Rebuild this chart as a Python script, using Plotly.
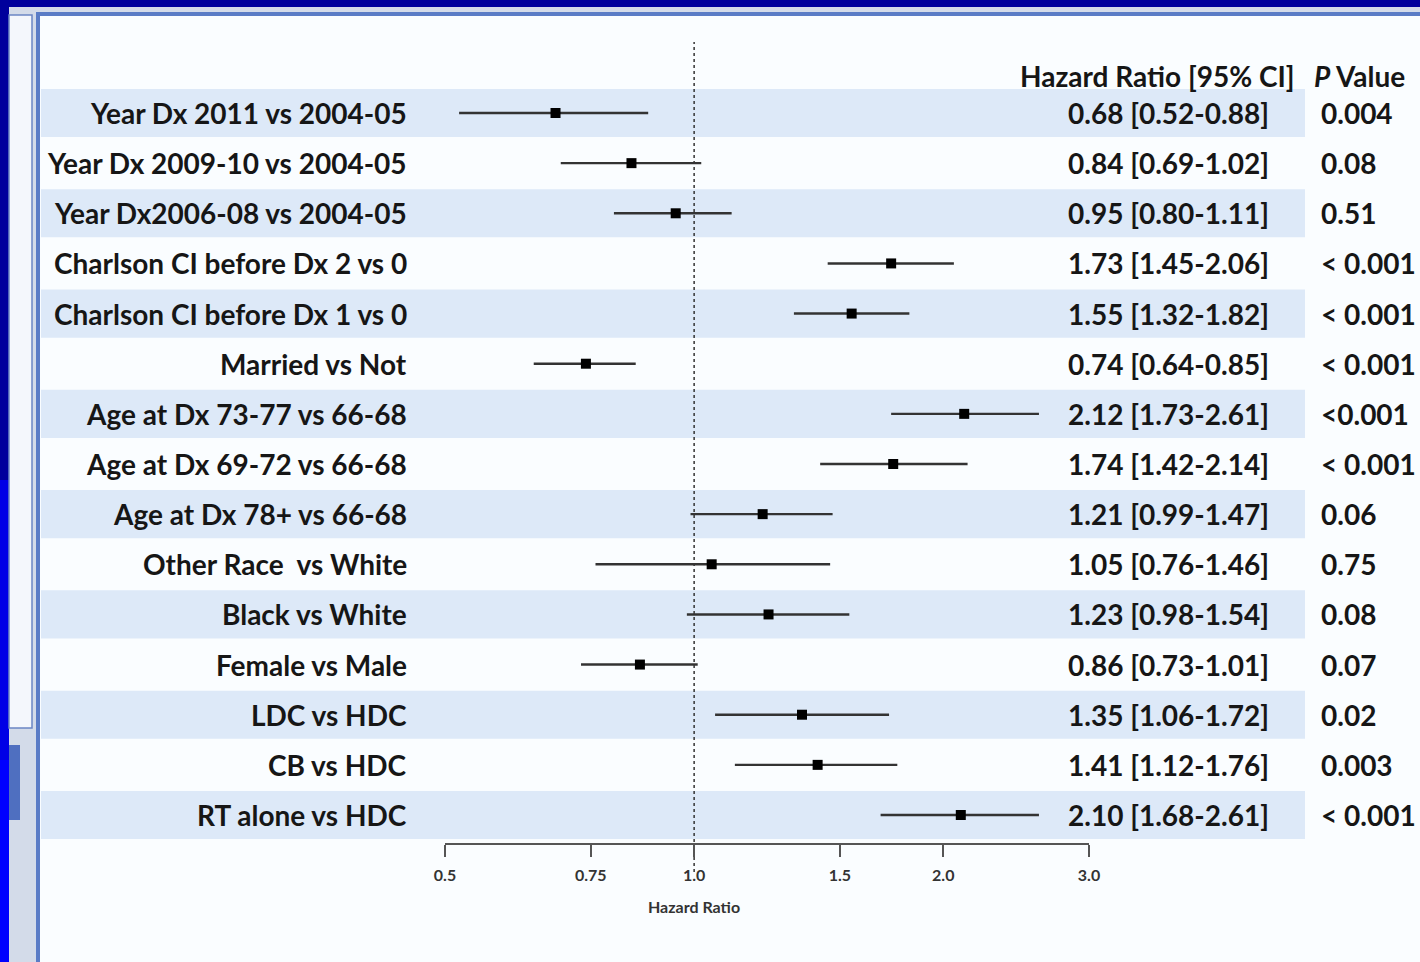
import math
import plotly.graph_objects as go

# ---------------- data ----------------
labels = [
    "Year Dx 2011 vs 2004-05",
    "Year Dx 2009-10 vs 2004-05",
    "Year Dx2006-08 vs 2004-05",
    "Charlson CI before Dx 2 vs 0",
    "Charlson CI before Dx 1 vs 0",
    "Married vs Not",
    "Age at Dx 73-77 vs 66-68",
    "Age at Dx 69-72 vs 66-68",
    "Age at Dx 78+ vs 66-68",
    "Other Race  vs White",
    "Black vs White",
    "Female vs Male",
    "LDC vs HDC",
    "CB vs HDC",
    "RT alone vs HDC",
]
hr = [0.68, 0.84, 0.95, 1.73, 1.55, 0.74, 2.12, 1.74, 1.21, 1.05, 1.23, 0.86, 1.35, 1.41, 2.10]
ci_low = [0.52, 0.69, 0.80, 1.45, 1.32, 0.64, 1.73, 1.42, 0.99, 0.76, 0.98, 0.73, 1.06, 1.12, 1.68]
ci_high = [0.88, 1.02, 1.11, 2.06, 1.82, 0.85, 2.61, 2.14, 1.47, 1.46, 1.54, 1.01, 1.72, 1.76, 2.61]
p_values = ["0.004", "0.08", "0.51", "< 0.001", "< 0.001", "< 0.001", "<0.001", "< 0.001",
            "0.06", "0.75", "0.08", "0.07", "0.02", "0.003", "< 0.001"]
tick_vals = [0.5, 0.75, 1.0, 1.5, 2.0, 3.0]
tick_text = ["0.5", "0.75", "1.0", "1.5", "2.0", "3.0"]
reference_hr = 1.0
x_title = "Hazard Ratio"
col_header_hr = "Hazard Ratio [95% CI]"
col_header_p = "<i>P</i> Value"

# ---------------- layout geometry (pixels) ----------------
W, H = 1420, 962
PL, PR = 445, 1089          # plot area x
PT, PB = 88, 843            # plot area y
pw, ph = PR - PL, PB - PT


def px(x):
    return (x - PL) / pw


def py(y):
    return (PB - y) / ph


rows = list(range(len(labels)))
FONT = "Lato"
TXT = "#161616"

fig = go.Figure()
fig.add_trace(go.Scatter(
    x=hr, y=rows, mode="markers",
    marker=dict(symbol="square", size=10, color="#000000"),
    error_x=dict(type="data", symmetric=False,
                 array=[h - m for h, m in zip(ci_high, hr)],
                 arrayminus=[m - l for m, l in zip(hr, ci_low)],
                 color="#333333", thickness=2.4, width=0),
    showlegend=False, hoverinfo="skip",
))

shapes = []
# background frame (screenshot window look)
shapes.append(dict(type="rect", xref="paper", yref="paper", x0=px(9), x1=px(W + 5), y0=py(H + 5), y1=py(7),
                   fillcolor="#d3dbe9", line=dict(width=0), layer="below"))
shapes.append(dict(type="rect", xref="paper", yref="paper", x0=px(-2), x1=px(9), y0=py(H + 5), y1=py(480),
                   fillcolor="#0000e6", line=dict(width=0), layer="below"))
shapes.append(dict(type="rect", xref="paper", yref="paper", x0=px(-2), x1=px(9), y0=py(H + 5), y1=py(760),
                   fillcolor="#0000ff", line=dict(width=0), layer="below"))
shapes.append(dict(type="rect", xref="paper", yref="paper", x0=px(9), x1=px(32), y0=py(15), y1=py(728),
                   fillcolor="#f4f7fc", line=dict(width=1.5, color="#6b86c4"), layer="below"))
shapes.append(dict(type="rect", xref="paper", yref="paper", x0=px(9), x1=px(20), y0=py(745), y1=py(820),
                   fillcolor="#4f6fc0", line=dict(width=0), layer="below"))
shapes.append(dict(type="rect", xref="paper", yref="paper", x0=px(38), x1=px(W + 5), y0=py(H + 5), y1=py(14),
                   fillcolor="#fafdff", line=dict(width=4, color="#5a7cc6"), layer="below"))
# row bands
for i in rows:
    if i % 2 == 0:
        shapes.append(dict(type="rect", xref="paper", yref="y", x0=px(41), x1=px(1305),
                           y0=i - 0.48, y1=i + 0.48, fillcolor="#dde9f8",
                           line=dict(width=0), layer="below"))
# reference line at HR = 1
shapes.append(dict(type="line", xref="x", yref="paper", x0=reference_hr, x1=reference_hr,
                   y0=py(872), y1=py(42),
                   line=dict(color="#333333", width=1.5, dash="dot"), layer="below"))

annotations = []
for i in rows:
    annotations.append(dict(xref="paper", yref="y", x=px(409), y=i, text=labels[i],
                            xanchor="right", yanchor="middle", showarrow=False,
                            font=dict(family=FONT, size=28, color=TXT, weight=700)))
    annotations.append(dict(xref="paper", yref="y", x=px(1271), y=i,
                            text=f"{hr[i]:.2f} [{ci_low[i]:.2f}-{ci_high[i]:.2f}]",
                            xanchor="right", yanchor="middle", showarrow=False,
                            font=dict(family=FONT, size=28, color=TXT, weight=700)))
    annotations.append(dict(xref="paper", yref="y", x=px(1319), y=i, text=p_values[i],
                            xanchor="left", yanchor="middle", showarrow=False,
                            font=dict(family=FONT, size=28, color=TXT, weight=700)))
annotations.append(dict(xref="paper", yref="paper", x=px(1297), y=py(76), text=col_header_hr,
                        xanchor="right", yanchor="middle", showarrow=False,
                        font=dict(family=FONT, size=28, color=TXT, weight=700)))
annotations.append(dict(xref="paper", yref="paper", x=px(1312), y=py(76), text=col_header_p,
                        xanchor="left", yanchor="middle", showarrow=False,
                        font=dict(family=FONT, size=28, color=TXT, weight=700)))
# x-axis title, centred under the reference line
annotations.append(dict(xref="x", yref="paper", x=math.log10(reference_hr), y=py(906), text=x_title,
                        xanchor="center", yanchor="middle", showarrow=False,
                        font=dict(family=FONT, size=16, color="#333333", weight=700)))

fig.update_layout(
    width=W, height=H,
    margin=dict(l=PL, r=W - PR, t=PT, b=H - PB, autoexpand=False),
    paper_bgcolor="#00009c",
    plot_bgcolor="rgba(0,0,0,0)",
    shapes=shapes,
    annotations=annotations,
    xaxis=dict(type="log", range=[math.log10(0.5), math.log10(3.0)],
               tickvals=tick_vals, ticktext=tick_text,
               ticks="outside", ticklen=12, tickwidth=1.5, tickcolor="#555555",
               showline=True, linecolor="#555555", linewidth=1.5,
               showgrid=False, zeroline=False, ticklabelstandoff=5,
               tickfont=dict(family=FONT, size=16, color="#333333", weight=700)),
    yaxis=dict(range=[len(labels) - 1 + (PB - 815) / 50.14, -25 / 50.14],
               showticklabels=False, showgrid=False, zeroline=False, showline=False),
)

fig.write_html(
    "out.html",
    config={"displayModeBar": False},
    post_script="document.body.style.margin='0';document.body.style.background='#00009c';",
)
